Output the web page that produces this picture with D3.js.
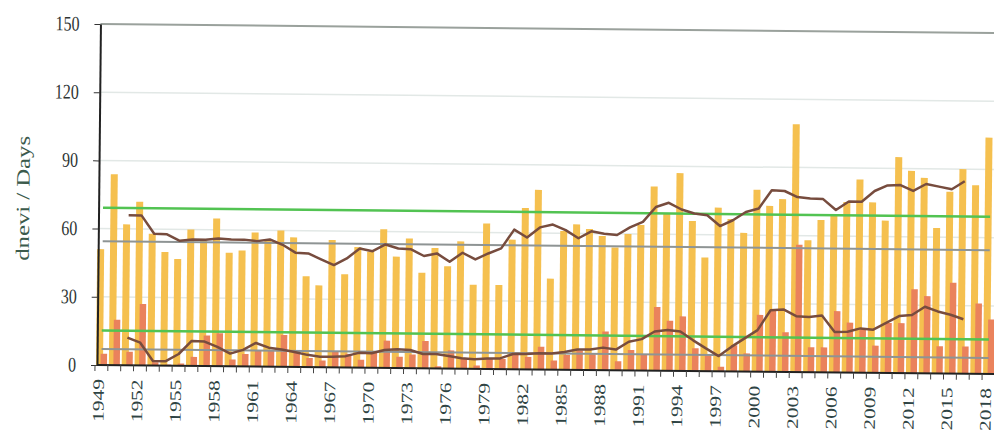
<!DOCTYPE html>
<html>
<head>
<meta charset="utf-8">
<script src="https://cdn.jsdelivr.net/npm/d3@7"></script>
<style>
  html, body { margin: 0; padding: 0; background: #fff; }
  svg { display: block; }
</style>
</head>
<body>
<svg id="viz"></svg>
<script>
/* Data */

const years = [
  1949, 1950, 1951, 1952, 1953, 1954, 1955, 1956, 1957, 1958,
  1959, 1960, 1961, 1962, 1963, 1964, 1965, 1966, 1967, 1968,
  1969, 1970, 1971, 1972, 1973, 1974, 1975, 1976, 1977, 1978,
  1979, 1980, 1981, 1982, 1983, 1984, 1985, 1986, 1987, 1988,
  1989, 1990, 1991, 1992, 1993, 1994, 1995, 1996, 1997, 1998,
  1999, 2000, 2001, 2002, 2003, 2004, 2005, 2006, 2007, 2008,
  2009, 2010, 2011, 2012, 2013, 2014, 2015, 2016, 2017, 2018
];

// tall (yellow) bars
const daysAll = [
  51, 84, 62, 72, 58, 50, 47, 60, 55, 65,
  50, 51, 59, 56, 60, 57, 40, 36, 56, 41,
  53, 51, 61, 49, 57, 42, 53, 45, 56, 37,
  64, 37, 57, 71, 79, 40, 61, 64, 62, 59,
  54, 60, 64, 81, 69, 87, 66, 50, 72, 67,
  61, 80, 73, 76, 109, 58, 67, 69, 75, 85,
  75, 67, 95, 89, 86, 64, 80, 90, 83, 104
];

// short (red) bars
const daysHot = [
  5, 20, 6, 27, 1.5, 0.5, 1, 4, 13.5, 14.5,
  3, 5.5, 7, 7, 14, 7.5, 4, 3, 7, 6,
  3.5, 7, 12, 5, 6, 12, 1, 8, 4.5, 1.5,
  4.5, 4.5, 7.5, 5.5, 10, 4, 6.5, 8.5, 7, 17,
  4, 9, 7, 28, 22, 24, 10, 7, 2, 11.5,
  8, 25, 27, 17.5, 56, 11, 11, 27, 22, 19,
  12, 22, 22, 37, 34, 12, 40, 12, 31, 24
];

// smoothed curves (1951-2016)
const smoothYears = years.slice(2, 68);

const smoothAll = [
  66, 66, 58, 57.8, 55, 55.6, 55.6, 56.2, 55.8, 55.8,
  55.2, 56, 53.7, 50.3, 50, 47.5, 45, 48, 52.4, 51.3,
  54.3, 52.6, 52.3, 49.4, 50.6, 47, 51, 48.1, 50.8, 53.1,
  61.4, 58, 62.5, 63.8, 61.4, 57.9, 61, 60, 59.5, 62.9,
  65.4, 72, 73.9, 71, 69.3, 68.6, 63.9, 66.5, 70.2, 71.8,
  79.9, 79.6, 77, 76.4, 76.2, 71.5, 75.3, 75.2, 80, 82.5,
  82.7, 80.2, 83.3, 82.2, 81.1, 84.7
];

const smoothHot = [
  12.2, 10, 2, 2, 5.2, 11, 10.8, 8.5, 5.6, 7.3,
  10.4, 8.4, 7.6, 6.6, 5.4, 4.6, 4.7, 5, 6.5, 6.4,
  7.9, 8.3, 8, 6.3, 6.3, 5.5, 4.6, 4.2, 4.6, 4.7,
  6.7, 6.7, 7.1, 7.1, 7.8, 9, 9, 9.9, 9.1, 12.6,
  13.8, 17.2, 17.9, 17.3, 13.5, 10, 6.7, 10.9, 14.6, 18.3,
  27.1, 27.5, 24.6, 24.3, 25, 17.8, 18, 19.5, 19, 22,
  25.1, 25.6, 29.3, 27.3, 25.9, 24
];

// horizontal reference levels
const greenLevels = [69.2, 15.2];
const grayLevels = [54.5, 7.1];

const yTicks = [0, 30, 60, 90, 120, 150];
const labelYears = years.filter((d, i) => i % 3 === 0);

/* Environment */

const width = 994;
const height = 430;

const svg = d3.select('#viz')
    .attr('width', width)
    .attr('height', height);

/* Scales */

const x = d3.scaleBand()
    .domain(years)
    .range([95, 995]);

const y = d3.scaleLinear()
    .domain([0, 150])
    .range([365, 24]);

const mid = d => x(d) + x.bandwidth() / 2;

/* Layers (the scan is tilted a little) */

const chart = svg.append('g')
    .attr('transform', `rotate(0.58, 97, ${y(0)})`);

const gGrid = chart.append('g');
const gBars = chart.append('g');
const gRef = chart.append('g');
const gLines = chart.append('g');
const gAxes = chart.append('g');

/* Grid */

gGrid.selectAll('line')
    .data(yTicks.filter(t => t > 0))
    .join('line')
    .attr('x1', 97)
    .attr('x2', width + 4)
    .attr('y1', d => y(d))
    .attr('y2', d => y(d))
    .attr('stroke', d => d === 150 ? '#9aa19c' : '#e2e8e6')
    .attr('stroke-width', d => d === 150 ? 2 : 1.5);

/* Bars */

const rows = years.map((yr, i) => ({year: yr, all: daysAll[i], hot: daysHot[i]}));

gBars.selectAll('rect.all')
    .data(rows)
    .join('rect')
    .attr('class', 'all')
    .attr('x', d => x(d.year) + 1)
    .attr('width', 7)
    .attr('y', d => y(d.all))
    .attr('height', d => y(0) - y(d.all))
    .attr('fill', '#f5c04f');

gBars.selectAll('rect.hot')
    .data(rows)
    .join('rect')
    .attr('class', 'hot')
    .attr('x', d => x(d.year) + 5.5)
    .attr('width', 6.5)
    .attr('y', d => y(d.hot))
    .attr('height', d => y(0) - y(d.hot))
    .attr('fill', '#ea825c');

/* Reference levels */

const first = years[0];
const last = years[years.length - 1];

gRef.selectAll('line.gray')
    .data(grayLevels)
    .join('line')
    .attr('class', 'gray')
    .attr('x1', mid(first))
    .attr('x2', mid(last))
    .attr('y1', d => y(d))
    .attr('y2', d => y(d))
    .attr('stroke', '#8e9494')
    .attr('stroke-width', 2);

gRef.selectAll('line.green')
    .data(greenLevels)
    .join('line')
    .attr('class', 'green')
    .attr('x1', mid(first))
    .attr('x2', mid(last))
    .attr('y1', d => y(d))
    .attr('y2', d => y(d))
    .attr('stroke', '#52c352')
    .attr('stroke-width', 2.5);

/* Smoothed lines */

const line = d3.line()
    .x(d => mid(d[0]))
    .y(d => y(d[1]));

gLines.selectAll('path')
    .data([smoothAll, smoothHot])
    .join('path')
    .attr('d', s => line(smoothYears.map((yr, i) => [yr, s[i]])))
    .attr('fill', 'none')
    .attr('stroke', '#774c3e')
    .attr('stroke-width', 2.5)
    .attr('stroke-linejoin', 'round');

/* Axes */

const yAxis = gAxes.append('g')
    .attr('transform', 'translate(97,0)')
    .call(d3.axisLeft(y).tickValues(yTicks).tickSize(6).tickSizeOuter(0).tickPadding(15));

yAxis.select('.domain').attr('stroke', '#222').attr('stroke-width', 2);
yAxis.selectAll('.tick line').attr('stroke', '#333');
yAxis.selectAll('.tick text')
    .attr('font-family', '"Liberation Serif", "DejaVu Serif", serif')
    .attr('font-size', 16)
    .attr('fill', '#2e3433')
    .attr('dy', '0.3em')
    .attr('transform', 'scale(1,1.3)');

gAxes.append('line')
    .attr('x1', 97)
    .attr('x2', width + 4)
    .attr('y1', y(0))
    .attr('y2', y(0))
    .attr('stroke', '#222')
    .attr('stroke-width', 2);

gAxes.selectAll('line.xtick')
    .data(years)
    .join('line')
    .attr('class', 'xtick')
    .attr('x1', d => x(d))
    .attr('x2', d => x(d))
    .attr('y1', y(0))
    .attr('y2', y(0) + 6)
    .attr('stroke', '#444')
    .attr('stroke-width', 1);

gAxes.selectAll('text.xlabel')
    .data(labelYears)
    .join('text')
    .attr('class', 'xlabel')
    .attr('transform', d => `translate(${mid(d) - 3},${y(0) + 14}) scale(1,1.34) rotate(-90)`)
    .attr('text-anchor', 'end')
    .attr('dy', '0.35em')
    .attr('font-family', '"Liberation Serif", "DejaVu Serif", serif')
    .attr('font-size', 16)
    .attr('fill', '#2f4444')
    .text(d => d);

gAxes.append('text')
    .attr('transform', `translate(21,${y(73)}) scale(1,1.3) rotate(-90)`)
    .attr('text-anchor', 'middle')
    .attr('dy', '0.35em')
    .attr('font-family', '"Liberation Serif", "DejaVu Serif", serif')
    .attr('font-size', 19)
    .attr('fill', '#3b5a4c')
    .text('dnevi / Days');
</script>
</body>
</html>
